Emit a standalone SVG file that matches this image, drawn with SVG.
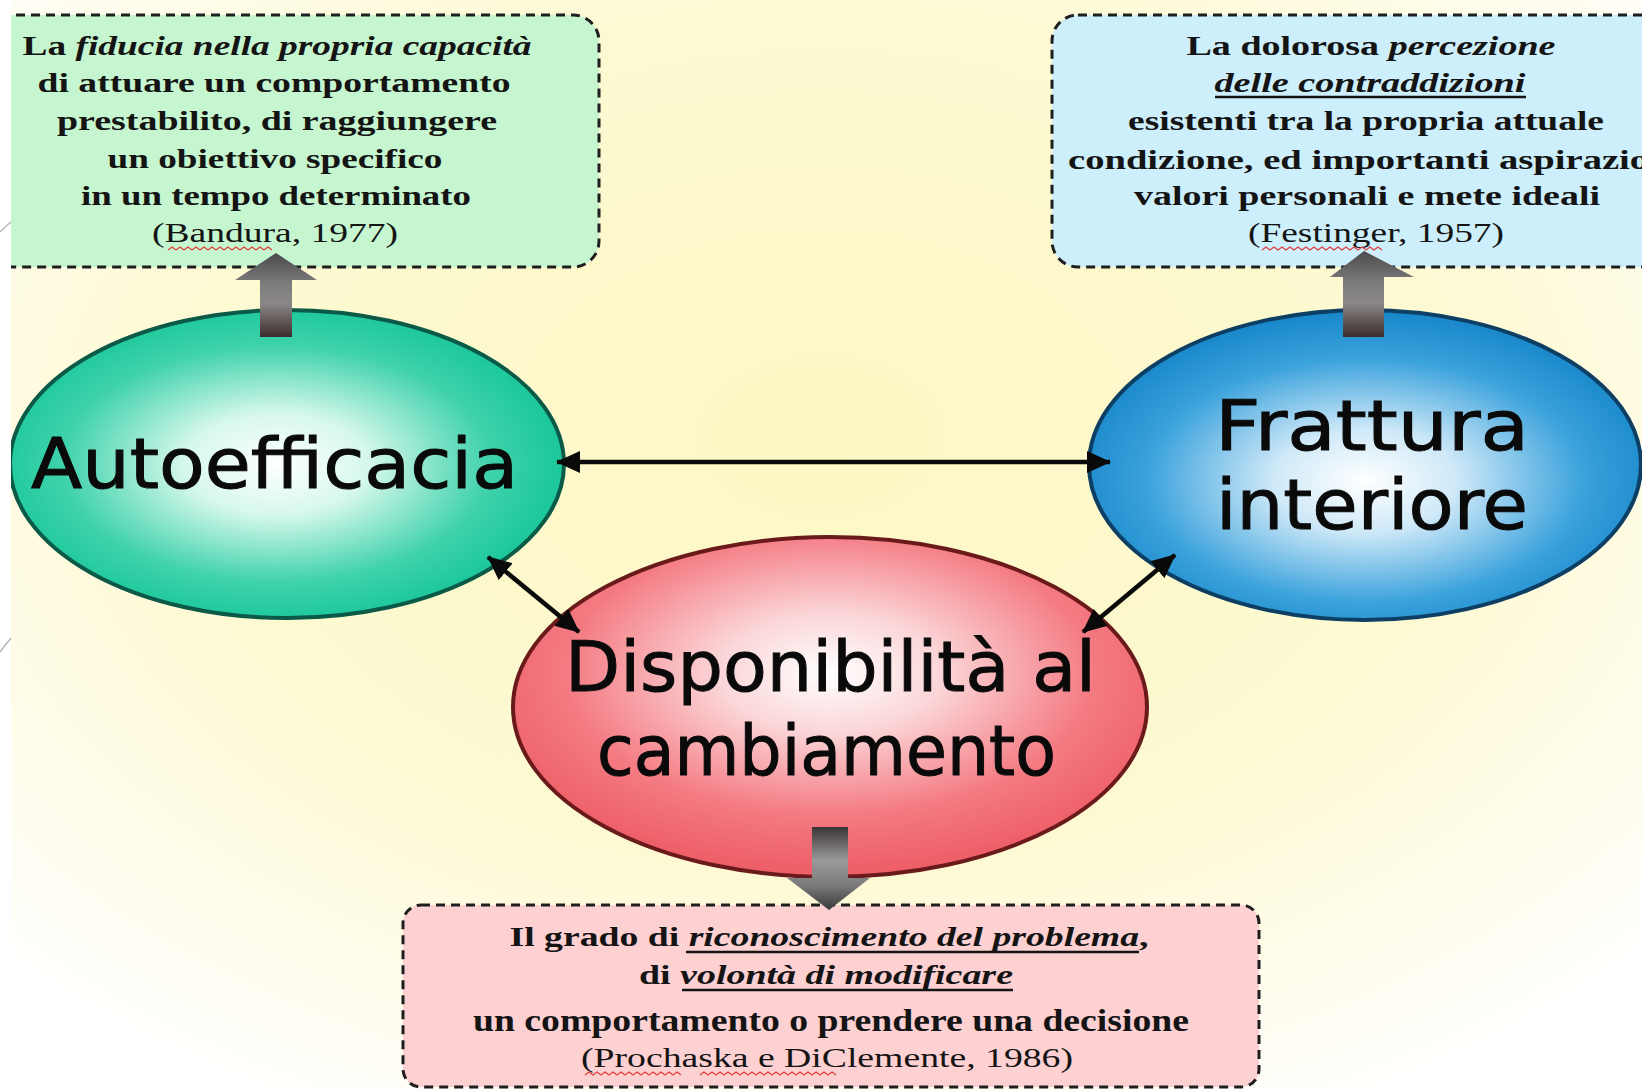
<svg xmlns="http://www.w3.org/2000/svg" width="1642" height="1090" viewBox="0 0 1642 1090">
<defs>
<style>
.box{stroke:#1e1e1e;stroke-width:3;stroke-dasharray:9 6;}
.bt{font-family:"Liberation Serif","Times New Roman",serif;font-weight:bold;font-size:28px;fill:#141414;text-anchor:middle;}
.ref{font-weight:normal;}
.it{font-style:italic;}
.ul{stroke:#141414;stroke-width:2.5;}
.lbl{font-family:"DejaVu Sans","Noto Sans",sans-serif;font-size:70px;fill:#0a0a0a;stroke:#0a0a0a;stroke-width:1;}
.conn{stroke:#0a0a0a;stroke-width:4.5;fill:none;}
.sq{stroke:#e04040;stroke-width:1.3;fill:none;}
</style>
<radialGradient id="bg" cx="0.5" cy="0.4" r="0.7">
<stop offset="0" stop-color="#fcf8c4"/>
<stop offset="0.55" stop-color="#fdf9d2"/>
<stop offset="0.85" stop-color="#fffdf0"/>
<stop offset="1" stop-color="#ffffff"/>
</radialGradient>
<radialGradient id="gG" cx="0.48" cy="0.5" r="0.55">
<stop offset="0" stop-color="#ffffff"/>
<stop offset="0.3" stop-color="#d6f8ec"/>
<stop offset="0.7" stop-color="#3fd2ab"/>
<stop offset="1" stop-color="#12c597"/>
</radialGradient>
<radialGradient id="gB" cx="0.5" cy="0.55" r="0.55">
<stop offset="0" stop-color="#ffffff"/>
<stop offset="0.3" stop-color="#cfe9f8"/>
<stop offset="0.72" stop-color="#3aa2dc"/>
<stop offset="1" stop-color="#1786c9"/>
</radialGradient>
<radialGradient id="gR" cx="0.5" cy="0.4" r="0.58">
<stop offset="0" stop-color="#ffffff"/>
<stop offset="0.3" stop-color="#fbd6d8"/>
<stop offset="0.72" stop-color="#f47a82"/>
<stop offset="1" stop-color="#ee5f68"/>
</radialGradient>
<linearGradient id="upA" x1="0" y1="0" x2="0" y2="1">
<stop offset="0" stop-color="#4a4a4a"/>
<stop offset="0.35" stop-color="#7a7a7a"/>
<stop offset="0.6" stop-color="#8c8888"/>
<stop offset="1" stop-color="#3a2c2c"/>
</linearGradient>
<linearGradient id="dnA" x1="0" y1="0" x2="0" y2="1">
<stop offset="0" stop-color="#3a3434"/>
<stop offset="0.4" stop-color="#9a9a9a"/>
<stop offset="0.7" stop-color="#7a7a7a"/>
<stop offset="1" stop-color="#3a3a3a"/>
</linearGradient>
<marker id="ah" viewBox="0 0 24 22" refX="23" refY="11" markerWidth="24" markerHeight="22" markerUnits="userSpaceOnUse" orient="auto-start-reverse">
<path d="M0,0 L24,11 L0,22 z" fill="#0a0a0a"/>
</marker>
</defs>

<rect x="0" y="0" width="1642" height="1090" fill="url(#bg)"/>

<g id="box-autoefficacia">
<rect class="box" x="-40" y="15" width="639" height="252" rx="26" fill="#c6f6cf"/>
<text class="bt" x="277" y="55" textLength="509" lengthAdjust="spacingAndGlyphs">La <tspan class="it">fiducia nella propria capacità</tspan></text>
<text class="bt" x="274" y="92" textLength="473" lengthAdjust="spacingAndGlyphs">di attuare un comportamento</text>
<text class="bt" x="277" y="130" textLength="440" lengthAdjust="spacingAndGlyphs">prestabilito, di raggiungere</text>
<text class="bt" x="275" y="168" textLength="335" lengthAdjust="spacingAndGlyphs">un obiettivo specifico</text>
<text class="bt" x="276" y="205" textLength="390" lengthAdjust="spacingAndGlyphs">in un tempo determinato</text>
<text class="bt ref" x="275" y="242" textLength="246" lengthAdjust="spacingAndGlyphs">(Bandura, 1977)</text>
<path class="sq" d="M168,250 l4,-3 l4,3 l4,-3 l4,3 l4,-3 l4,3 l4,-3 l4,3 l4,-3 l4,3 l4,-3 l4,3 l4,-3 l4,3 l4,-3 l4,3 l4,-3 l4,3 l4,-3 l4,3 l4,-3 l4,3 l4,-3 l4,3 l4,-3 l4,3"/>
</g>

<g id="box-frattura">
<rect class="box" x="1052" y="15" width="700" height="252" rx="26" fill="#cdeefb"/>
<text class="bt" x="1371" y="55" textLength="369" lengthAdjust="spacingAndGlyphs">La dolorosa <tspan class="it">percezione</tspan></text>
<text class="bt it" x="1370" y="92" textLength="311" lengthAdjust="spacingAndGlyphs">delle contraddizioni</text>
<line class="ul" x1="1215" y1="97" x2="1526" y2="97"/>
<text class="bt" x="1366" y="130" textLength="476" lengthAdjust="spacingAndGlyphs">esistenti tra la propria attuale</text>
<text class="bt" x="1068" y="169" textLength="623" lengthAdjust="spacingAndGlyphs" style="text-anchor:start">condizione, ed importanti aspirazioni,</text>
<text class="bt" x="1367" y="205" textLength="466" lengthAdjust="spacingAndGlyphs">valori personali e mete ideali</text>
<text class="bt ref" x="1376" y="242" textLength="256" lengthAdjust="spacingAndGlyphs">(Festinger, 1957)</text>
<path class="sq" d="M1262,250 l4,-3 l4,3 l4,-3 l4,3 l4,-3 l4,3 l4,-3 l4,3 l4,-3 l4,3 l4,-3 l4,3 l4,-3 l4,3 l4,-3 l4,3 l4,-3 l4,3 l4,-3 l4,3 l4,-3 l4,3 l4,-3 l4,3 l4,-3 l4,3 l4,-3 l4,3 l4,-3 l4,3"/>
</g>

<g id="box-disponibilita">
<rect class="box" x="403" y="905" width="856" height="182" rx="18" fill="#fdd0d2"/>
<text class="bt" x="829" y="946" textLength="639" lengthAdjust="spacingAndGlyphs">Il grado di <tspan class="it">riconoscimento del problema</tspan>,</text>
<line class="ul" x1="686" y1="952" x2="1139" y2="952"/>
<text class="bt" x="826" y="984" textLength="374" lengthAdjust="spacingAndGlyphs">di <tspan class="it">volontà di modificare</tspan></text>
<line class="ul" x1="682" y1="990" x2="1013" y2="990"/>
<text class="bt" x="831" y="1031" style="font-size:31px" textLength="716" lengthAdjust="spacingAndGlyphs">un comportamento o prendere una decisione</text>
<text class="bt ref" x="827" y="1067" textLength="492" lengthAdjust="spacingAndGlyphs">(Prochaska e DiClemente, 1986)</text>
<path class="sq" d="M585,1075 l4,-3 l4,3 l4,-3 l4,3 l4,-3 l4,3 l4,-3 l4,3 l4,-3 l4,3 l4,-3 l4,3 l4,-3 l4,3 l4,-3 l4,3 l4,-3 l4,3 l4,-3 l4,3 l4,-3 l4,3 l4,-3 l4,3"/>
<path class="sq" d="M700,1075 l4,-3 l4,3 l4,-3 l4,3 l4,-3 l4,3 l4,-3 l4,3 l4,-3 l4,3 l4,-3 l4,3 l4,-3 l4,3 l4,-3 l4,3 l4,-3 l4,3 l4,-3 l4,3 l4,-3 l4,3 l4,-3 l4,3 l4,-3 l4,3 l4,-3 l4,3 l4,-3 l4,3 l4,-3 l4,3 l4,-3 l4,3"/>
</g>

<g id="node-autoefficacia">
<ellipse cx="287" cy="464" rx="277" ry="154" fill="url(#gG)" stroke="#0b5a47" stroke-width="4"/>
<text class="lbl" x="31" y="488" textLength="487" lengthAdjust="spacingAndGlyphs">Autoefficacia</text>
</g>

<g id="node-frattura">
<ellipse cx="1365" cy="465" rx="276" ry="155" fill="url(#gB)" stroke="#0c3f63" stroke-width="4"/>
<text class="lbl" x="1215" y="450" textLength="314" lengthAdjust="spacingAndGlyphs">Frattura</text>
<text class="lbl" x="1216" y="529" textLength="312" lengthAdjust="spacingAndGlyphs">interiore</text>
</g>

<g id="node-disponibilita">
<ellipse cx="830" cy="707" rx="317" ry="170" fill="url(#gR)" stroke="#6a1a1a" stroke-width="4"/>
<text class="lbl" x="565" y="691" textLength="531" lengthAdjust="spacingAndGlyphs">Disponibilità al</text>
<text class="lbl" x="597" y="775" textLength="459" lengthAdjust="spacingAndGlyphs">cambiamento</text>
</g>

<g id="connectors">
<line class="conn" x1="557" y1="462" x2="1110" y2="462" marker-start="url(#ah)" marker-end="url(#ah)"/>
<line class="conn" x1="488" y1="557" x2="579" y2="632" marker-start="url(#ah)" marker-end="url(#ah)"/>
<line class="conn" x1="1175" y1="555" x2="1083" y2="632" marker-start="url(#ah)" marker-end="url(#ah)"/>
<path d="M276,253 L317,280 L292,280 L292,337 L260,337 L260,280 L235,280 Z" fill="url(#upA)"/>
<path d="M1364,251 L1414,277 L1384,277 L1384,337 L1343,337 L1343,277 L1330,277 Z" fill="url(#upA)"/>
<path d="M812,827 L848,827 L848,878 L870,878 L829,910 L787,878 L812,878 Z" fill="url(#dnA)"/>
</g>

<rect x="0" y="0" width="11" height="1090" fill="#ffffff"/>
<path d="M0,232 Q6,226 11,222" stroke="#b8b8b8" stroke-width="1.5" fill="none"/>
<path d="M0,652 Q6,644 11,638" stroke="#b8b8b8" stroke-width="1.5" fill="none"/>
</svg>
